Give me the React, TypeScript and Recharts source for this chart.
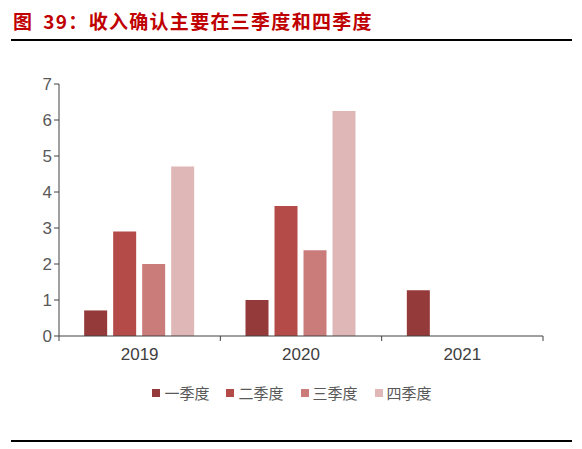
import React from "react"
import { Bar, BarChart, XAxis, YAxis } from "recharts"

const years = ["2019", "2020", "2021"]
const q1 = [0.71, 1.0, 1.27]
const q2 = [2.9, 3.61, null]
const q3 = [2.0, 2.38, null]
const q4 = [4.71, 6.25, null]
const yTicks = [0, 1, 2, 3, 4, 5, 6, 7]

const series = [
  { key: "q1", name: "一季度", color: "#953A3A" },
  { key: "q2", name: "二季度", color: "#B54B48" },
  { key: "q3", name: "三季度", color: "#CA7C7B" },
  { key: "q4", name: "四季度", color: "#DFB7B7" },
]

const data = years.map((year, i) => ({
  year,
  q1: q1[i],
  q2: q2[i],
  q3: q3[i],
  q4: q4[i],
}))

const W = 582
const H = 449
const margin = { top: 84, right: 39, bottom: 83, left: 19 }
const yAxisWidth = 40
const plotWidth = W - margin.left - margin.right - yAxisWidth
const band = plotWidth / years.length

const XTick = (props: any) => {
  const { x, y, payload, index } = props
  const left = x - band / 2
  return (
    <g>
      <line x1={left} y1={y - 8} x2={left} y2={y - 3} stroke="#404040" />
      {index === years.length - 1 && (
        <line x1={left + band} y1={y - 8} x2={left + band} y2={y - 3} stroke="#404040" />
      )}
      <text x={x} y={y + 16} textAnchor="middle" fill="#404040" fontSize={17} fontFamily="Liberation Sans, Arial, sans-serif">
        {payload.value}
      </text>
    </g>
  )
}

const LegendBox = () => (
  <div
    style={{
      position: "absolute",
      left: 0,
      top: 384,
      width: W,
      display: "flex",
      justifyContent: "center",
      gap: 17,
      paddingLeft: 2,
      boxSizing: "border-box",
    }}
  >
    {series.map((s) => (
      <div key={s.key} style={{ display: "flex", alignItems: "center" }}>
        <span style={{ width: 8, height: 8, background: s.color, display: "inline-block", marginRight: 4 }} />
        <span style={{ fontSize: 15, color: "#595959", fontFamily: "Noto Sans CJK SC, sans-serif", lineHeight: "18px" }}>
          {s.name}
        </span>
      </div>
    ))}
  </div>
)

export default function App() {
  return (
    <div style={{ position: "absolute", left: 0, top: 0, width: W, height: H, background: "#fff" }}>
      <div
        style={{
          position: "absolute",
          left: 13,
          top: 9,
          fontSize: 19,
          lineHeight: "24px",
          fontWeight: "bold",
          letterSpacing: 1.3,
          color: "#C00000",
          fontFamily: "Noto Sans CJK SC, sans-serif",
          whiteSpace: "nowrap",
        }}
      >
        图<span style={{ marginLeft: 10 }}>39：</span>收入确认主要在三季度和四季度
      </div>
      <div style={{ position: "absolute", left: 11, top: 39, width: 561, height: 2, background: "#000" }} />
      <div style={{ position: "absolute", left: 11, top: 440, width: 561, height: 2, background: "#000" }} />
      <div style={{ position: "absolute", left: 0, top: 0 }}>
        <BarChart width={W} height={H} data={data} margin={margin} barCategoryGap="15.6%" barGap={6}>
          <XAxis
            dataKey="year"
            height={30}
            axisLine={{ stroke: "#404040" }}
            tickLine={false}
            tick={<XTick />}
            interval={0}
          />
          <YAxis
            width={yAxisWidth}
            domain={[0, 7]}
            ticks={yTicks}
            interval={0}
            axisLine={{ stroke: "#404040" }}
            tickLine={{ stroke: "#404040" }}
            tickSize={5}
            tick={{ fill: "#595959", fontSize: 17, fontFamily: "Liberation Sans, Arial, sans-serif" }}
          />
          {series.map((s) => (
            <Bar key={s.key} dataKey={s.key} name={s.name} fill={s.color} isAnimationActive={false} />
          ))}
        </BarChart>
      </div>
      <LegendBox />
    </div>
  )
}
